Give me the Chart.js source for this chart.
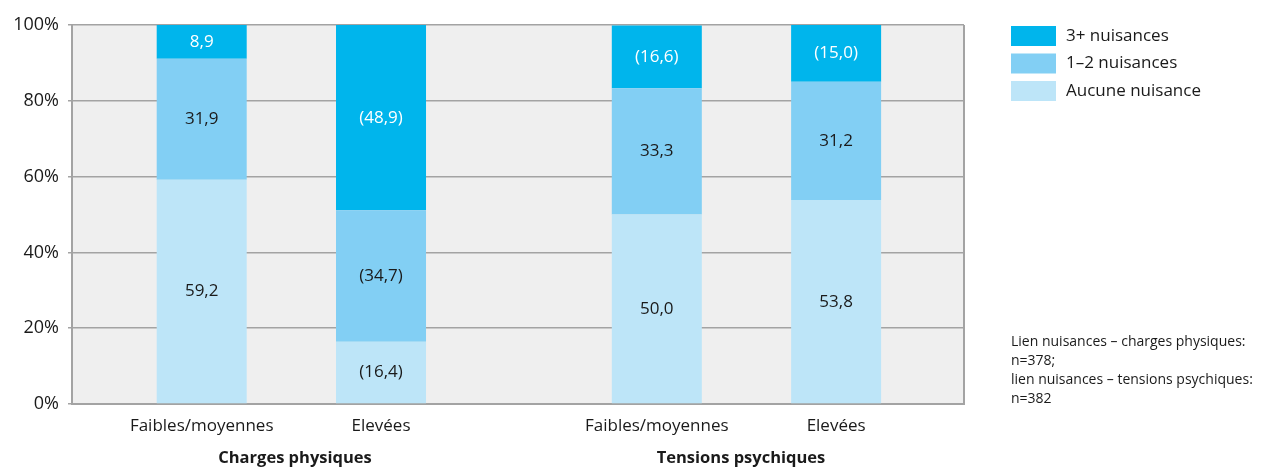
<!DOCTYPE html>
<html>
<head>
<meta charset="utf-8">
<script src="https://cdn.jsdelivr.net/npm/chart.js@4"></script>
<style>
  body { margin: 0; background: #fff; }
  #wrap { width: 1262px; height: 468px; }
</style>
</head>
<body>
<div id="wrap"><canvas id="myChart"></canvas></div>
<script>
// groupes et sous-groupes
const categories = ['Charges physiques', 'Tensions psychiques'];
const subLabels = ['Faibles/moyennes', 'Elevées'];
const seriesNames = ['Aucune nuisance', '1–2 nuisances', '3+ nuisances'];

// valeurs en % (Faibles/moyennes)
const aucuneFaibles = [59.2, 50.0];
const deuxFaibles = [31.9, 33.3];
const troisFaibles = [8.9, 16.6];
// valeurs en % (Elevées)
const aucuneElevees = [16.4, 53.8];
const deuxElevees = [34.7, 31.2];
const troisElevees = [48.9, 15.0];

// valeurs entre parenthèses (petits effectifs)
const parenAucuneFaibles = [false, false];
const parenDeuxFaibles = [false, false];
const parenTroisFaibles = [false, true];
const parenAucuneElevees = [true, false];
const parenDeuxElevees = [true, false];
const parenTroisElevees = [true, true];

const yTicks = [0, 20, 40, 60, 80, 100];
const note = ['Lien nuisances – charges physiques:', 'n=378;', 'lien nuisances – tensions psychiques:', 'n=382'];

const colors = ['#bde5f8', '#82cff4', '#00b5ec'];
const FONT = "'Open Sans', sans-serif";
const TXT = '#1a1a1a';

const makeSet = (idx, data, paren, stack) => ({
    label: seriesNames[idx],
    data: data,
    paren: paren,
    stack: stack,
    sub: stack === 'faibles' ? 0 : 1,
    level: idx,
    backgroundColor: colors[idx],
    borderWidth: 0,
    categoryPercentage: 0.788,
    barPercentage: 0.502
});

const datasets = [
    makeSet(0, aucuneFaibles, parenAucuneFaibles, 'faibles'),
    makeSet(1, deuxFaibles, parenDeuxFaibles, 'faibles'),
    makeSet(2, troisFaibles, parenTroisFaibles, 'faibles'),
    makeSet(0, aucuneElevees, parenAucuneElevees, 'elevees'),
    makeSet(1, deuxElevees, parenDeuxElevees, 'elevees'),
    makeSet(2, troisElevees, parenTroisElevees, 'elevees')
];

const fmt = (v) => v.toFixed(1).replace('.', ',');

// fond gris et cadre
const plotBg = {
    id: 'plotBg',
    beforeDraw(chart) {
        const { ctx, chartArea: a } = chart;
        ctx.save();
        ctx.fillStyle = '#efefef';
        ctx.fillRect(a.left, a.top, a.right - a.left, a.bottom - a.top);
        ctx.restore();
    },
    afterDraw(chart) {
        const { ctx, chartArea: a } = chart;
        ctx.save();
        ctx.strokeStyle = '#a3a3a3';
        ctx.lineWidth = 2;
        ctx.beginPath();
        ctx.moveTo(a.right, a.top);
        ctx.lineTo(a.right, a.bottom);
        ctx.stroke();
        ctx.restore();
    }
};

// valeurs dans les barres, libellés, légende, note
const extras = {
    id: 'extras',
    afterDatasetsDraw(chart) {
        const { ctx, chartArea: a } = chart;
        ctx.save();
        ctx.font = '17px ' + FONT;
        ctx.textAlign = 'center';
        ctx.textBaseline = 'middle';
        chart.data.datasets.forEach((ds, di) => {
            const meta = chart.getDatasetMeta(di);
            meta.data.forEach((bar, i) => {
                const v = ds.data[i];
                let t = fmt(v);
                if (ds.paren[i]) t = '(' + t + ')';
                ctx.fillStyle = ds.level === 2 ? '#ffffff' : TXT;
                ctx.fillText(t, bar.x, (bar.y + bar.base) / 2);
                if (ds.level === 0) {
                    ctx.fillStyle = TXT;
                    ctx.fillText(subLabels[ds.sub], bar.x, a.bottom + 22);
                }
            });
        });
        // titres de groupe, centrés sur chaque moitié de la zone
        ctx.font = 'bold 16.5px ' + FONT;
        ctx.fillStyle = TXT;
        const half = (a.right - a.left) / categories.length;
        categories.forEach((c, i) => {
            ctx.fillText(c, a.left + half * (i + 0.5), a.bottom + 54);
        });
        ctx.restore();
    },
    afterDraw(chart) {
        const { ctx } = chart;
        const x0 = chart.chartArea.right + 47;
        ctx.save();
        ctx.textBaseline = 'middle';
        ctx.textAlign = 'left';
        ctx.font = '17px ' + FONT;
        [2, 1, 0].forEach((lvl, r) => {
            const y = 26 + r * 27.5;
            ctx.fillStyle = colors[lvl];
            ctx.fillRect(x0, y, 45, 20);
            ctx.fillStyle = TXT;
            ctx.fillText(seriesNames[lvl], x0 + 55, y + 10);
        });
        ctx.font = '14px ' + FONT;
        note.forEach((line, k) => {
            ctx.fillText(line, x0, 342 + k * 19);
        });
        ctx.restore();
    }
};

const ctx = document.getElementById('myChart').getContext('2d');
const chart = new Chart(ctx, {
    type: 'bar',
    data: { labels: categories, datasets: datasets },
    options: {
        responsive: true,
        maintainAspectRatio: false,
        animation: false,
        layout: { padding: { top: 25, right: 298, left: 0, bottom: 0 } },
        plugins: {
            legend: { display: false },
            tooltip: { enabled: false }
        },
        scales: {
            x: {
                stacked: true,
                grid: { display: false },
                border: { display: true, color: '#a3a3a3', width: 2 },
                ticks: { display: false },
                // marges un peu plus étroites que l'offset par défaut
                afterBuildTicks: (scale) => {
                    scale._startValue = -0.482;
                    scale._valueRange = 1.96;
                },
                afterFit: (scale) => { scale.height = 64; }
            },
            y: {
                stacked: true,
                min: 0,
                max: 100,
                afterBuildTicks: (scale) => { scale.ticks = yTicks.map((v) => ({ value: v })); },
                grid: { color: '#a3a3a3', lineWidth: 1.5, tickLength: 4 },
                border: { display: true, color: '#a3a3a3', width: 2 },
                ticks: {
                    color: TXT,
                    padding: 9,
                    font: { family: FONT, size: 18 },
                    callback: (v) => v + '%'
                },
                afterFit: (scale) => { scale.width = 72; }
            }
        }
    },
    plugins: [plotBg, extras]
});
</script>
</body>
</html>
